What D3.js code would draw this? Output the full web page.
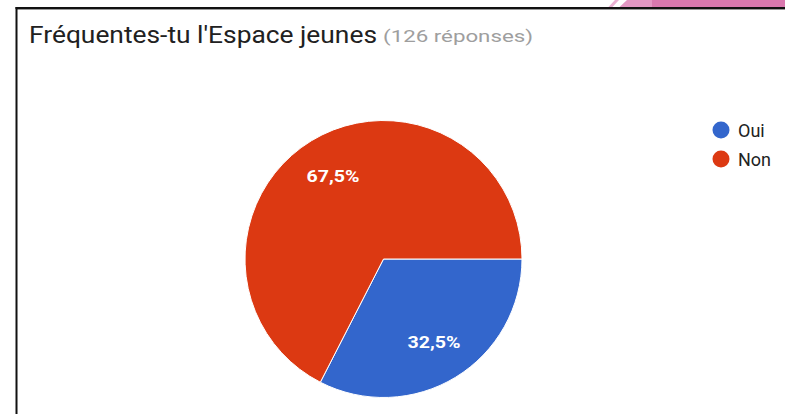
<!DOCTYPE html>
<html>
<head>
<meta charset="utf-8">
<script src="https://cdn.jsdelivr.net/npm/d3@7"></script>
<style>
  html, body { margin: 0; padding: 0; background: #fff; }
  svg { display: block; font-family: Roboto, "Noto Sans", sans-serif; }
</style>
</head>
<body>
<svg id="chart" width="785" height="414"></svg>
<script>
// données du graphique
const labels = ["Oui", "Non"];
const values = [41, 85];
const colors = ["#3366cc", "#dc3912"];
const title = "Fréquentes-tu l'Espace jeunes";
const subtitle = "(126 réponses)";

const svg = d3.select("#chart");
const fr = d3.formatLocale({decimal: ",", thousands: " ", grouping: [3], currency: ["", " €"]});
const pct = fr.format(".1%");

// bandeau rose en haut à droite (capture d'écran)
svg.append("rect").attr("x", 652).attr("y", 0).attr("width", 133).attr("height", 7.5).attr("fill", "#d978ae");
svg.append("polygon").attr("points", "627,0 652,0 652,7.5 619,7.5").attr("fill", "#e397c3");
svg.append("polygon").attr("points", "615,0 619,0 612,7.5 608,7.5").attr("fill", "#eab0d2");

// cadre
svg.append("rect").attr("x", 15.5).attr("y", 7).attr("width", 785).attr("height", 2).attr("fill", "#111");
svg.append("rect").attr("x", 17).attr("y", 9).attr("width", 785).attr("height", 1).attr("fill", "#999");
svg.append("rect").attr("x", 15.5).attr("y", 7).attr("width", 2).attr("height", 414).attr("fill", "#111");

// titre
svg.append("text")
    .attr("x", 29)
    .attr("y", 42.5)
    .attr("font-size", "23px")
    .attr("fill", "#212121")
    .attr("textLength", 348)
    .attr("lengthAdjust", "spacingAndGlyphs")
    .text(title);
svg.append("text")
    .attr("x", 383)
    .attr("y", 42)
    .attr("font-size", "16px")
    .attr("fill", "#9e9e9e")
    .attr("textLength", 150)
    .attr("lengthAdjust", "spacingAndGlyphs")
    .text(subtitle);

// camembert
const cx = 383.5, cy = 259, radius = 138.5;
const total = d3.sum(values);
const pieData = d3.pie()
    .sort(null)
    .startAngle(Math.PI / 2)
    .endAngle(Math.PI / 2 + 2 * Math.PI)(values.map((v, i) => ({label: labels[i], value: v, color: colors[i]})).map(d => d.value))
    .map((p, i) => Object.assign(p, {label: labels[i], color: colors[i]}));

const arc = d3.arc().innerRadius(0).outerRadius(radius);
const labelArc = d3.arc().innerRadius(radius * 0.7).outerRadius(radius * 0.7);

const g = svg.append("g").attr("transform", `translate(${cx},${cy})`);
g.selectAll("path")
    .data(pieData)
    .enter()
    .append("path")
    .attr("d", arc)
    .attr("fill", d => d.color)
    .attr("stroke", "#fff")
    .attr("stroke-width", 1);

g.selectAll("text")
    .data(pieData)
    .enter()
    .append("text")
    .attr("transform", d => `translate(${labelArc.centroid(d)})`)
    .attr("text-anchor", "middle")
    .attr("dy", "0.35em")
    .attr("font-size", "17px")
    .attr("font-weight", "bold")
    .attr("fill", "#fff")
    .attr("textLength", 53)
    .attr("lengthAdjust", "spacingAndGlyphs")
    .text(d => pct(d.value / total));

// légende
const legend = svg.append("g").attr("transform", "translate(721,130)");
const item = legend.selectAll("g")
    .data(labels)
    .enter()
    .append("g")
    .attr("transform", (d, i) => `translate(0,${i * 29})`);
item.append("circle")
    .attr("r", 8.5)
    .attr("fill", (d, i) => colors[i]);
item.append("text")
    .attr("x", 17)
    .attr("y", 6.5)
    .attr("font-size", "18px")
    .attr("fill", "#222")
    .text(d => d);
</script>
</body>
</html>
